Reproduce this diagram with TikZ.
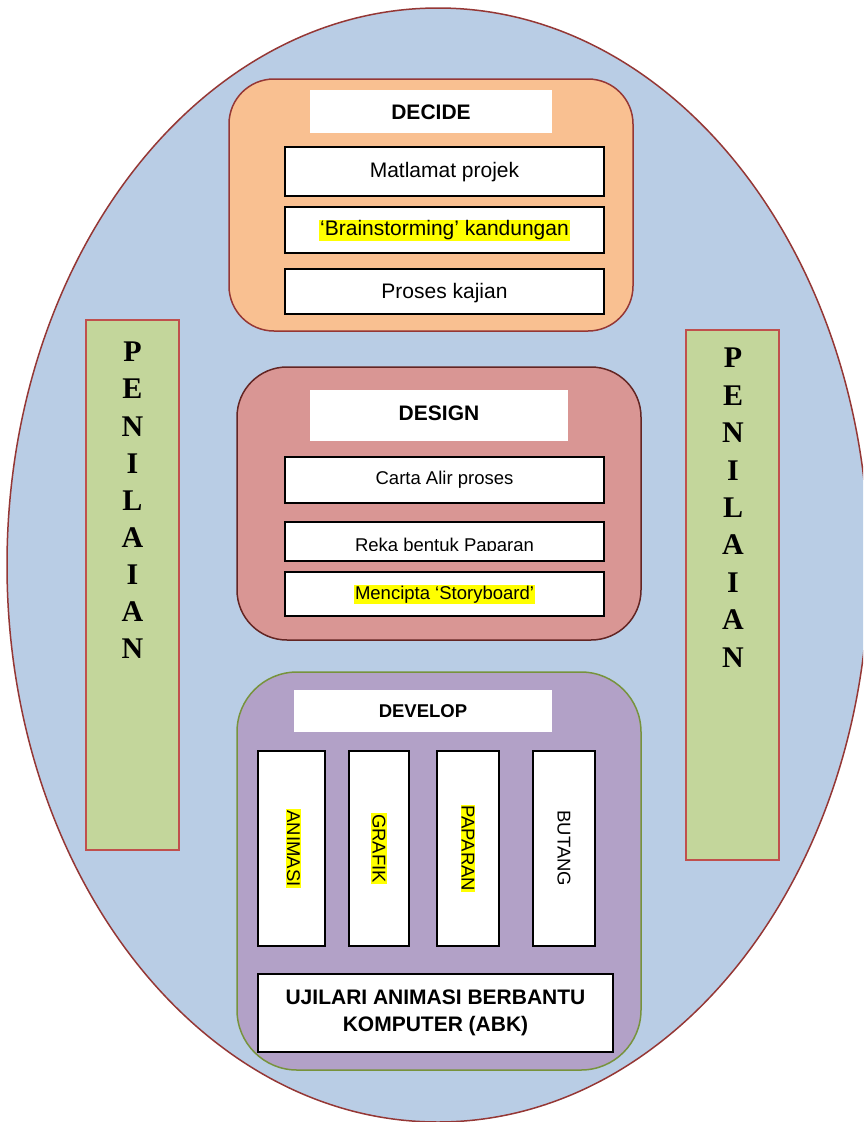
\documentclass[tikz,border=0pt]{standalone}
\usepackage{fontspec}
\setmainfont{Liberation Sans}
\newfontfamily\timesfont{Liberation Serif}
\definecolor{ellfill}{HTML}{B9CDE5}
\definecolor{ellline}{HTML}{953735}
\definecolor{decfill}{HTML}{F9C091}
\definecolor{decline}{HTML}{953735}
\definecolor{desfill}{HTML}{D99694}
\definecolor{desline}{HTML}{632523}
\definecolor{devfill}{HTML}{B2A1C7}
\definecolor{devline}{HTML}{77933C}
\definecolor{penfill}{HTML}{C3D69B}
\definecolor{penline}{HTML}{C0504D}
\definecolor{hl}{HTML}{FFFF00}
\tikzset{
  panel/.style={line width=1.5pt, inner sep=0pt},
  head/.style={fill=white, inner sep=0pt, font=\fontsize{21}{25}\selectfont\bfseries},
  item/.style={draw=black, fill=white, line width=2pt, inner sep=0pt},
  big/.style={font=\fontsize{21}{25}\selectfont},
  small/.style={font=\fontsize{18.5}{22}\selectfont},
  hltext/.style={fill=hl, inner sep=1pt},
  penbox/.style={draw=penline, fill=penfill, line width=2pt, minimum width=93pt, minimum height=530pt, inner sep=0pt},
  penletter/.style={font=\timesfont\fontsize{30}{34}\selectfont\bfseries, inner sep=0pt},
  colbox/.style={item, minimum height=195pt},
}
\begin{document}
\begin{tikzpicture}[x=1pt,y=-1pt]
\fill[white] (0,0) rectangle (863,1122);
\useasboundingbox (0,0) rectangle (863,1122);
\clip (0,0) rectangle (863,1122);
% outer ellipse
\draw[ellline, fill=ellfill, line width=1.5pt] (438,565) ellipse [x radius=431, y radius=557];

% PENILAIAN boxes
\node[penbox] (penL) at (132.5,585) {};
\node[penbox] (penR) at (732.5,595) {};
\foreach \l [count=\i from 0] in {P,E,N,I,L,A,I,A,N} {
  \node[penletter] (pl\i) at (132.5,352+37.1*\i) {\l};
  \node[penletter] (pr\i) at (733,358+37.4*\i) {\l};
}

% DECIDE
\node[panel, draw=decline, fill=decfill, rounded corners=45pt, minimum width=404pt, minimum height=252pt] (decide) at (431,205) {};
\node[head, minimum width=242pt, minimum height=43pt] (decideh) at (431,111.5) {};
\node[head] (decidet) at (431,112.5) {DECIDE};
\node[item, minimum width=319pt, minimum height=49pt] (d1) at (444.5,171) {};
\node[big, inner sep=0pt] (d1t) at (444.5,172) {Matlamat projek};
\node[item, minimum width=319pt, minimum height=46pt] (d2) at (444.5,230) {};
\node[hltext, big] (d2t) at (444.5,230.5) {‘Brainstorming’ kandungan};
\node[item, minimum width=319pt, minimum height=45pt] (d3) at (444.5,291) {};
\node[big, inner sep=0pt] (d3t) at (444.5,293) {Proses kajian};

% DESIGN
\node[panel, draw=desline, fill=desfill, rounded corners=50pt, minimum width=404pt, minimum height=273pt] (design) at (439,503.5) {};
\node[head, minimum width=258pt, minimum height=51pt] (designh) at (439,415.5) {};
\node[head] (designt) at (439,413) {DESIGN};
\node[item, small, minimum width=319pt, minimum height=46pt] (g1) at (444.5,480) {Carta Alir proses};
\node[item, minimum width=319pt, minimum height=39pt] (g2) at (444.5,541.5) {};
\begin{scope}
\clip (286,523) rectangle (603,550);
\node[small, anchor=base, inner sep=0pt] (g2t) at (444.5,551) {Reka bentuk Paparan};
\end{scope}
\node[item, minimum width=319pt, minimum height=44pt] (g3) at (444.5,594) {};
\node[hltext, small] (g3t) at (444.5,594.5) {Mencipta ‘Storyboard’};

% DEVELOP
\node[panel, draw=devline, fill=devfill, rounded corners=60pt, minimum width=404pt, minimum height=398pt] (develop) at (439,871) {};
\node[head, font=\fontsize{18.5}{22}\selectfont\bfseries, minimum width=258pt, minimum height=42pt] (developh) at (423,711) {DEVELOP};
\node[colbox, minimum width=67pt] (c1) at (291.5,848.5) {};
\node[colbox, minimum width=60pt] (c2) at (379,848.5) {};
\node[colbox, minimum width=62pt] (c3) at (468,848.5) {};
\node[colbox, minimum width=62pt] (c4) at (564,848.5) {};
\node[hltext, small, rotate=-90] (c1t) at (293.5,848.5) {ANIMASI};
\node[hltext, small, rotate=-90] (c2t) at (379,848.5) {GRAFIK};
\node[hltext, small, rotate=-90] (c3t) at (468,848.5) {PAPARAN};
\node[small, rotate=-90, inner sep=1pt] (c4t) at (564,848.5) {BUTANG};
\node[item, minimum width=355pt, minimum height=78pt, align=center, font=\fontsize{21}{27}\selectfont\bfseries] (ujilari) at (435.5,1013) {UJILARI ANIMASI BERBANTU\\KOMPUTER (ABK)};
\end{tikzpicture}
\end{document}
